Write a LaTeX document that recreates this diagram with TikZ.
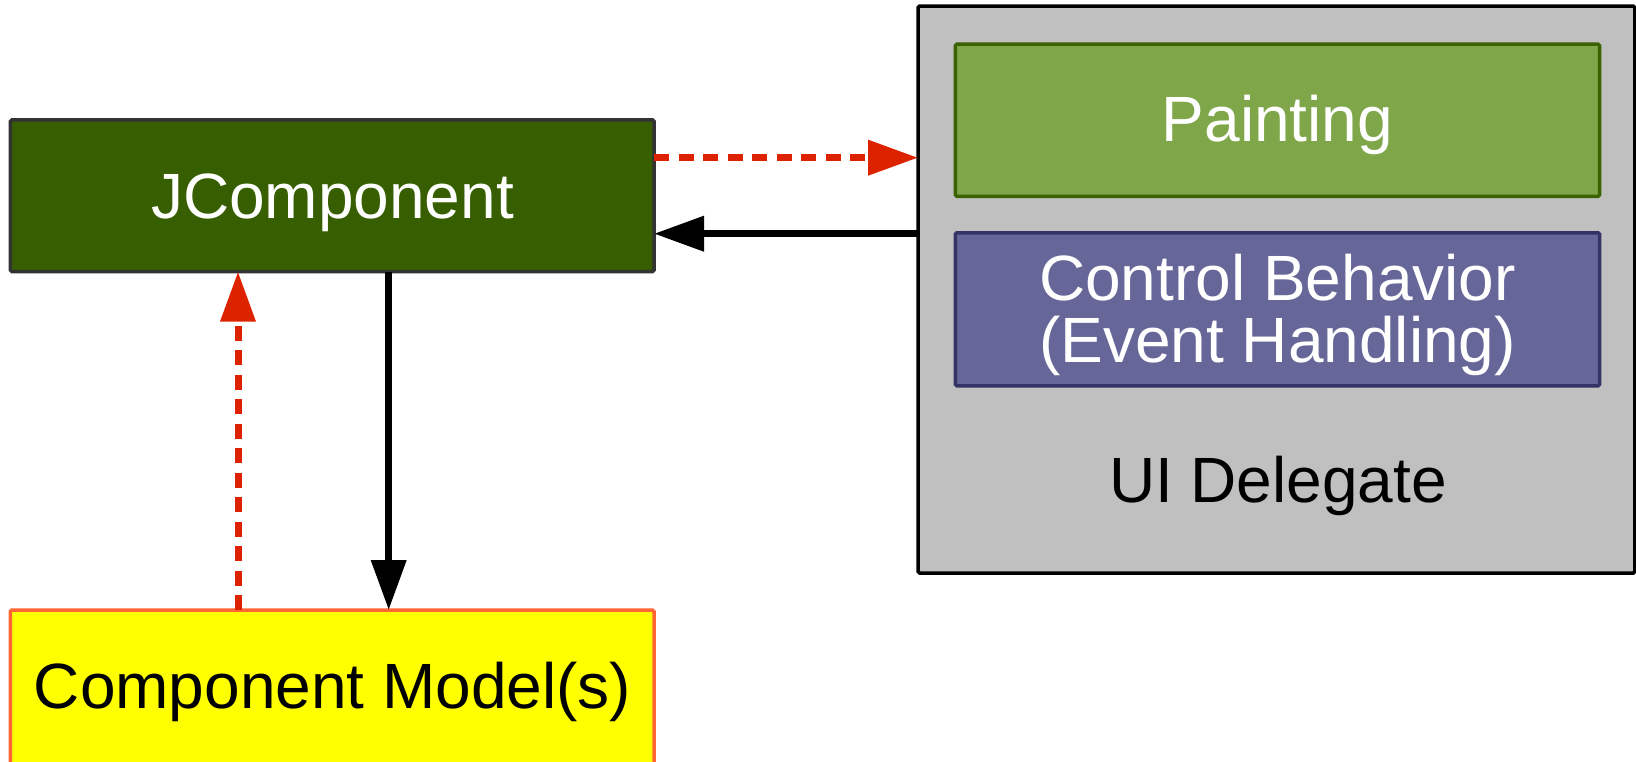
\documentclass[tikz,border=0pt]{standalone}
\usepackage{fontspec}
\setmainfont{Liberation Sans}
\usetikzlibrary{arrows.meta}

\definecolor{jcfill}{RGB}{55,94,0}
\definecolor{jcline}{RGB}{51,51,51}
\definecolor{pfill}{RGB}{127,167,74}
\definecolor{pline}{RGB}{60,98,0}
\definecolor{cfill}{RGB}{102,102,153}
\definecolor{cline}{RGB}{51,51,102}
\definecolor{uifill}{RGB}{192,192,192}
\definecolor{mfill}{RGB}{255,255,0}
\definecolor{mline}{RGB}{255,102,51}
\definecolor{arrowred}{RGB}{221,34,0}

\begin{document}
\begin{tikzpicture}[x=1pt,y=-1pt,
  box/.style={draw, line width=3.5pt, rounded corners=1.5pt, inner sep=0pt, outer sep=0pt},
  lbl/.style={font=\fontsize{64}{62}\selectfont, inner sep=0pt, anchor=base},
  flow/.style={line width=7pt, -{Triangle[length=50pt,width=34pt]}},
  reddash/.style={draw=arrowred, dash pattern=on 15pt off 9.5pt},
  ]
\path[use as bounding box] (0,0) rectangle (1636,761);
\clip (0,0) rectangle (1636,761);
\fill[white] (0,0) rectangle (1636,761);

% boxes
\node[box, draw=jcline, fill=jcfill, minimum width=643.6pt, minimum height=151.7pt] (jc) at (332.2,195.8) {};
\node[box, draw=black, fill=uifill, minimum width=716.7pt, minimum height=567pt] (ui) at (1276.4,289.5) {};
\node[box, draw=pline, fill=pfill, minimum width=644.1pt, minimum height=152.3pt] (paint) at (1277.5,120.2) {};
\node[box, draw=cline, fill=cfill, minimum width=644.1pt, minimum height=153.1pt] (ctrl) at (1277.5,309.3) {};
\node[box, draw=mline, fill=mfill, minimum width=643.6pt, minimum height=190pt] (model) at (332.2,705) {};

% labels
\node[lbl, text=white] (jctext) at (332.5,218.3) {JComponent};
\node[lbl, text=white] (painttext) at (1277.5,141.6) {Painting};
\node[lbl, text=white, align=center, anchor=north] (ctrltext) at (1277.5,253.5) {Control Behavior\\(Event Handling)};
\node[lbl] (uitext) at (1278,502.1) {UI Delegate};
\node[lbl] (modeltext) at (332.6,708.3) {Component Model(s)};

% connectors
\coordinate (rA) at ([yshift=38.1pt]jc.east);
\draw[flow, reddash] (rA) -- (rA -| ui.west);
\coordinate (bA) at ([yshift=55.8pt]ui.west);
\draw[flow] (bA) -- (bA -| jc.east);
\coordinate (rB) at ([xshift=-94.2pt]model.north);
\draw[flow, reddash] (rB) -- (rB |- jc.south);
\coordinate (bB) at ([xshift=56.5pt]jc.south);
\draw[flow] (bB) -- (bB |- model.north);
\end{tikzpicture}
\end{document}
